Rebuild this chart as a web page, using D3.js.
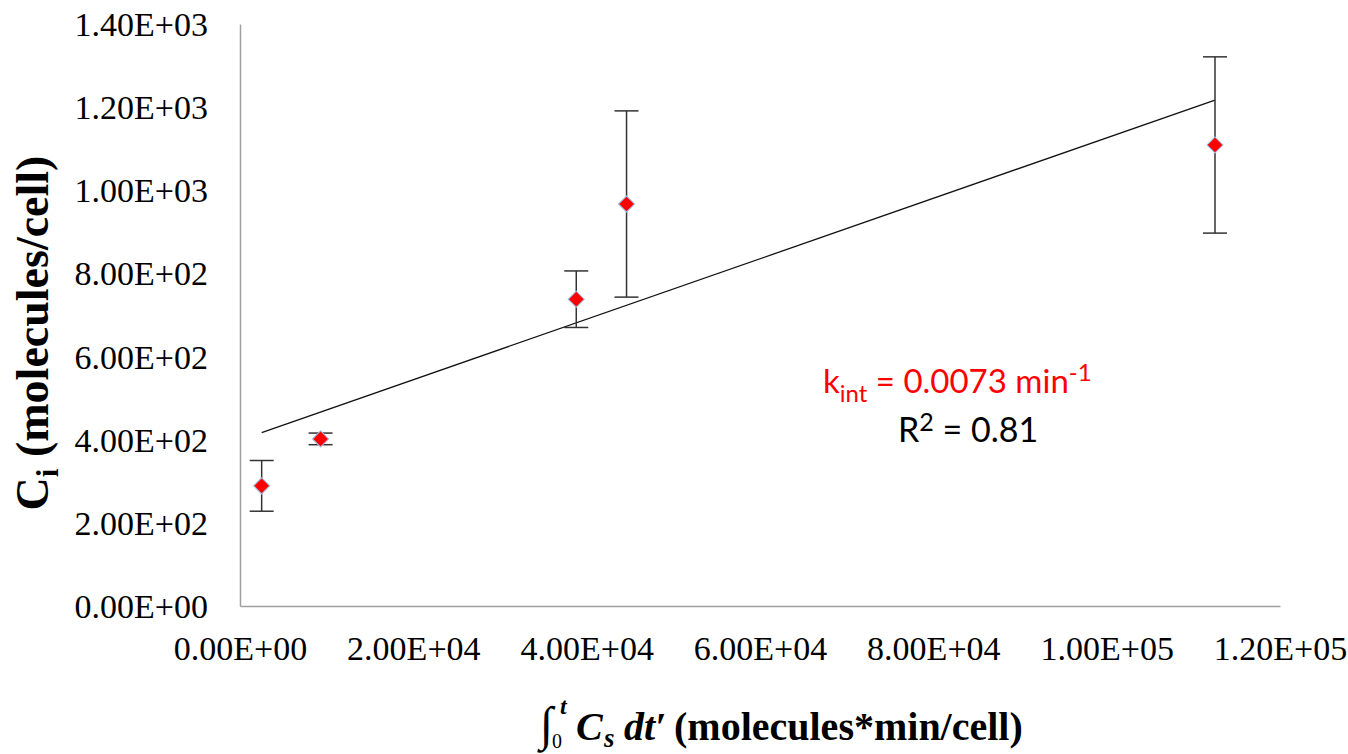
<!DOCTYPE html>
<html>
<head>
<meta charset="utf-8">
<script src="https://cdn.jsdelivr.net/npm/d3@7"></script>
<style>
    body { margin: 0; background: #fff; }
    svg { display: block; }
</style>
</head>
<body>
<svg id="chart"></svg>
<script>
// values
const xValues = [2500, 9300, 38800, 44600, 112500];
const yValues = [289, 402, 738, 967, 1109];
const yErrors = [61, 14, 68, 224, 212];
const xTicks = [0, 20000, 40000, 60000, 80000, 100000, 120000];
const yTicks = [0, 200, 400, 600, 800, 1000, 1200, 1400];
const kLabel = ['k', 'int', ' = 0.0073 min', '-1'];
const r2Label = ['R', '2', ' = 0.81'];

const width = 1348;
const height = 754;
const plot = {left: 240, right: 1280, top: 24, bottom: 606};
const serif = '"Liberation Serif", "Times New Roman", serif';

const svg = d3.select('#chart')
    .attr('width', width)
    .attr('height', height);

const points = xValues.map((x, i) => ({x: x, y: yValues[i], err: yErrors[i]}));

const scales = {
    x: d3.scaleLinear().domain([0, 120000]).range([plot.left, plot.right]),
    y: d3.scaleLinear().domain([0, 1400]).range([plot.bottom, plot.top])
};

const fmt = v => {
    // Excel style 0.00E+00
    const s = v.toExponential(2).toUpperCase();
    const [m, e] = s.split('E');
    const n = parseInt(e, 10);
    return `${m}E${n < 0 ? '-' : '+'}${String(Math.abs(n)).padStart(2, '0')}`;
};

const axes = {
    x: d3.axisBottom(scales.x).tickValues(xTicks).tickFormat(fmt).tickSize(0).tickPadding(34),
    y: d3.axisLeft(scales.y).tickValues(yTicks).tickFormat(fmt).tickSize(0).tickPadding(32)
};

const elAxisX = svg.append('g')
    .attr('transform', `translate(0,${plot.bottom})`)
    .call(axes.x);
const elAxisY = svg.append('g')
    .attr('transform', `translate(${plot.left},0)`)
    .call(axes.y);

[elAxisX, elAxisY].forEach(el => {
    el.select('.domain').attr('stroke', '#a0a0a0').attr('stroke-width', 1.5);
    el.selectAll('text')
        .attr('fill', '#000')
        .style('font-family', serif)
        .style('font-size', '34px');
});
elAxisY.selectAll('text').attr('dy', '0.34em');
elAxisX.selectAll('text').attr('dy', '0.6em');

// linear trend line (least squares)
const meanX = d3.mean(xValues);
const meanY = d3.mean(yValues);
const slope = d3.sum(points, p => (p.x - meanX) * (p.y - meanY)) / d3.sum(points, p => (p.x - meanX) ** 2);
const intercept = meanY - slope * meanX;
const xExtent = d3.extent(xValues);

const line = d3.line()
    .x(d => scales.x(d))
    .y(d => scales.y(intercept + slope * d));

svg.append('path')
    .attr('d', line(xExtent))
    .attr('fill', 'none')
    .attr('stroke', '#111')
    .attr('stroke-width', 1.3);

// error bars
const elErr = svg.append('g').attr('stroke', '#333').attr('stroke-width', 1.5);
elErr.selectAll('line.bar')
    .data(points)
    .join('line')
    .classed('bar', true)
    .attr('x1', p => scales.x(p.x))
    .attr('x2', p => scales.x(p.x))
    .attr('y1', p => scales.y(p.y - p.err))
    .attr('y2', p => scales.y(p.y + p.err));
const caps = points.flatMap(p => [{x: p.x, y: p.y - p.err}, {x: p.x, y: p.y + p.err}]);
elErr.selectAll('line.cap')
    .data(caps)
    .join('line')
    .classed('cap', true)
    .attr('x1', c => scales.x(c.x) - 12)
    .attr('x2', c => scales.x(c.x) + 12)
    .attr('y1', c => scales.y(c.y))
    .attr('y2', c => scales.y(c.y));

// diamond markers
const diamond = d3.symbol().type(d3.symbolSquare).size(130);
svg.append('g')
    .selectAll('path.marker')
    .data(points)
    .join('path')
    .classed('marker', true)
    .attr('d', diamond)
    .attr('transform', p => `translate(${scales.x(p.x)},${scales.y(p.y)}) rotate(45)`)
    .attr('fill', '#ff0000')
    .attr('stroke', '#9dc3e6')
    .attr('stroke-width', 1);

// annotations
const annoFont = 'Lato, "Open Sans", sans-serif';
const kText = svg.append('text')
    .attr('x', 823).attr('y', 393)
    .attr('fill', '#ff0000')
    .style('font-family', annoFont)
    .style('font-size', '33px');
kText.append('tspan').text(kLabel[0]);
kText.append('tspan').attr('dy', 9).style('font-size', '24px').text(kLabel[1]);
kText.append('tspan').attr('dy', -9).text(kLabel[2]);
kText.append('tspan').attr('dy', -12).style('font-size', '24px').text(kLabel[3]);

const rText = svg.append('text')
    .attr('x', 898).attr('y', 442)
    .attr('fill', '#000')
    .style('font-family', annoFont)
    .style('font-size', '34px');
rText.append('tspan').text(r2Label[0]);
rText.append('tspan').attr('dy', -11).style('font-size', '25px').text(r2Label[1]);
rText.append('tspan').attr('dy', 11).text(r2Label[2]);

// y axis title
const yTitle = svg.append('text')
    .attr('transform', 'translate(48,333) rotate(-90)')
    .attr('text-anchor', 'middle')
    .style('font-family', serif)
    .style('font-weight', 'bold')
    .style('font-size', '46px');
yTitle.append('tspan').text('C');
yTitle.append('tspan').attr('dy', 10).style('font-size', '31px').text('i');
yTitle.append('tspan').attr('dy', -10).text(' (molecules/cell)');

// x axis title
const xTitle = svg.append('g')
    .style('font-family', serif)
    .style('font-weight', 'bold');
xTitle.append('text').attr('x', 540).attr('y', 740)
    .style('font-size', '48px').style('font-weight', 'normal').text('∫');
xTitle.append('text').attr('x', 560).attr('y', 714)
    .style('font-size', '24px').style('font-style', 'italic').text('t');
xTitle.append('text').attr('x', 552).attr('y', 748)
    .style('font-size', '20px').style('font-weight', 'normal').text('0');
xTitle.append('text').attr('x', 576).attr('y', 740)
    .style('font-size', '40px').style('font-style', 'italic').text('C');
xTitle.append('text').attr('x', 604).attr('y', 747)
    .style('font-size', '27px').style('font-style', 'italic').text('s');
xTitle.append('text').attr('x', 624).attr('y', 740)
    .style('font-size', '40px').style('font-style', 'italic').text('dt′');
xTitle.append('text').attr('x', 674).attr('y', 740)
    .style('font-size', '40px').text('(molecules*min/cell)');
</script>
</body>
</html>
